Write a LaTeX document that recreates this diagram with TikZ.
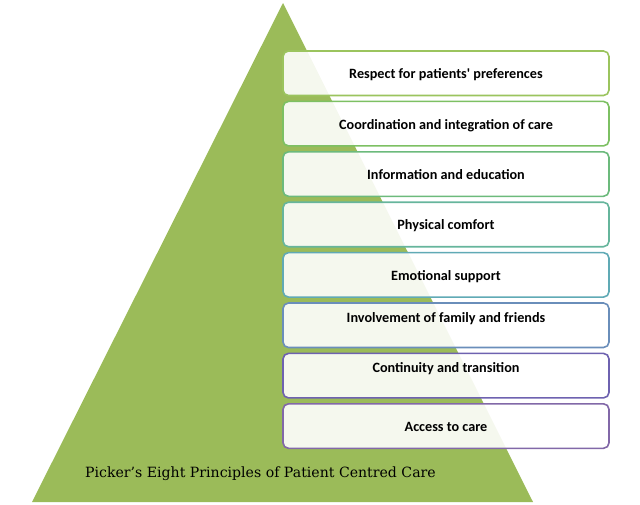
\documentclass[tikz,border=0pt]{standalone}
\usepackage{fontspec}
\setmainfont{Carlito}[Ligatures=TeXOff]
\newfontfamily\titlefont{DejaVu Serif}
\definecolor{trigreen}{HTML}{9BBB59}
\definecolor{c1}{HTML}{9BC45E}
\definecolor{c2}{HTML}{7DC063}
\definecolor{c3}{HTML}{6CBA7C}
\definecolor{c4}{HTML}{66B59C}
\definecolor{c5}{HTML}{60AAB5}
\definecolor{c6}{HTML}{6A8EBA}
\definecolor{c7}{HTML}{6E62B0}
\definecolor{c8}{HTML}{8268A8}
\begin{document}
\begin{tikzpicture}[x=1pt,y=-1pt,
  box/.style={draw, line width=1.6pt, rounded corners=5.5pt, fill=white, fill opacity=0.9, text opacity=1,
    minimum width=326pt, minimum height=44.5pt, inner sep=0pt, text height=13pt, text depth=2pt,
    font=\fontsize{14.2}{16}\selectfont\bfseries, text=black},
  upper/.style={text depth=19pt},
  title/.style={font=\titlefont\fontsize{14.1}{16}\selectfont, text=black, anchor=west, inner sep=0pt}]
\useasboundingbox (0,0) rectangle (640,504);
\fill[trigreen] (283,3) -- (533,502) -- (32,502) -- cycle;
\node[box, draw=c1] (b1) at (446,73.25) {Respect for patients' preferences};
\node[box, draw=c2] (b2) at (446,123.65) {Coordination and integration of care};
\node[box, draw=c3] (b3) at (446,174.05) {Information and education};
\node[box, draw=c4] (b4) at (446,224.45) {Physical comfort};
\node[box, draw=c5] (b5) at (446,274.85) {Emotional support};
\node[box, draw=c6, upper] (b6) at (446,325.25) {Involvement of family and friends};
\node[box, draw=c7, upper] (b7) at (446,375.65) {Continuity and transition};
\node[box, draw=c8] (b8) at (446,426.05) {Access to care};
\node[title] (t) at (85,474) {Picker’s Eight Principles of Patient Centred Care};
\end{tikzpicture}
\end{document}
